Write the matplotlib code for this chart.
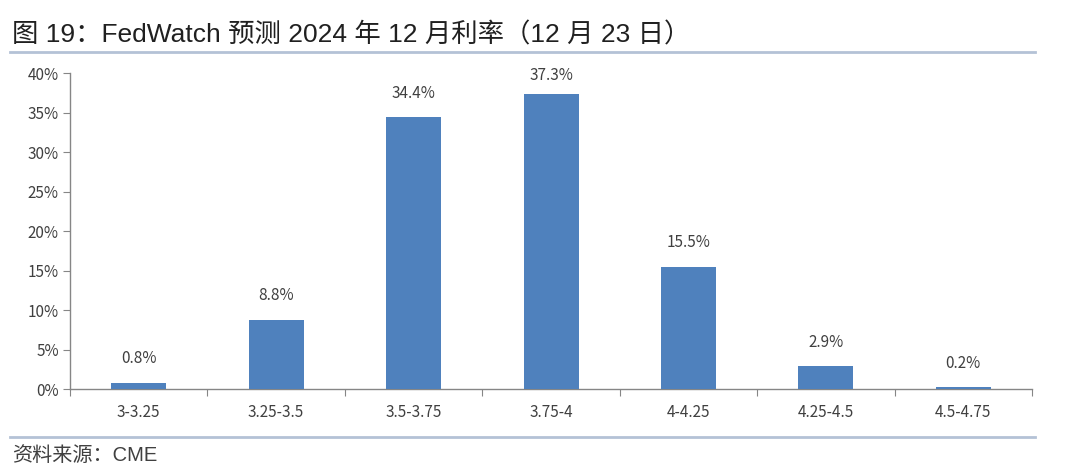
import matplotlib.pyplot as plt
from matplotlib.lines import Line2D

plt.rcParams['font.family'] = ['Noto Sans CJK SC', 'DejaVu Sans']

# ====== データ ======
categories = ["3-3.25", "3.25-3.5", "3.5-3.75", "3.75-4", "4-4.25", "4.25-4.5", "4.5-4.75"]
values = [0.8, 8.8, 34.4, 37.3, 15.5, 2.9, 0.2]
y_ticks = [0, 5, 10, 15, 20, 25, 30, 35, 40]

title = "图 19：FedWatch 预测 2024 年 12 月利率（12 月 23 日）"
source = "资料来源：CME"

bar_color = "#4F81BD"
axis_color = "#868686"
text_color = "#404040"
latin_cjk = ['Liberation Sans', 'Noto Sans CJK SC']

fig = plt.figure(figsize=(10.8, 4.72), dpi=100)
ax = fig.add_axes([0.0648, 0.1758, 0.8908, 0.6695])

x = list(range(len(categories)))
ax.bar(x, values, width=0.4, color=bar_color, zorder=3)
for xi, v in zip(x, values):
    # labels are kept inside the plot area, like the original
    ax.text(xi, min(v + 1.95, 38.6), f"{v:.1f}%", ha="center", va="bottom", fontsize=11, color=text_color)

ax.set_xlim(-0.5, len(categories) - 0.5)
ax.set_ylim(0, 40)
ax.set_yticks(y_ticks)
ax.set_yticklabels([f"{t}%" for t in y_ticks], fontsize=11, color=text_color)

# category boundaries as ticks, labels at centers
ax.set_xticks([i - 0.5 for i in range(len(categories) + 1)])
ax.set_xticklabels([])
ax.set_xticks(x, minor=True)
ax.set_xticklabels(categories, minor=True, fontsize=11, color=text_color)
ax.tick_params(axis="x", which="minor", length=0, pad=11)
ax.tick_params(axis="x", which="major", length=5, color=axis_color, direction="out")
ax.tick_params(axis="y", length=5, color=axis_color, direction="out", pad=3)

for s in ["top", "right"]:
    ax.spines[s].set_visible(False)
for s in ["left", "bottom"]:
    ax.spines[s].set_color(axis_color)
    ax.spines[s].set_linewidth(1.0)

fig.text(0.011, 0.925, title, fontsize=19, color="#202020", ha="left", va="center", family=latin_cjk)
fig.text(0.011, 0.036, source, fontsize=14.5, color="#404040", ha="left", va="center", family=latin_cjk)

line_color = "#B4C2D6"
fig.add_artist(Line2D([0.009, 0.958], [0.889, 0.889], color=line_color, linewidth=2, transform=fig.transFigure))
fig.add_artist(Line2D([0.009, 0.958], [0.074, 0.074], color=line_color, linewidth=2, transform=fig.transFigure))

fig.savefig("out.png", dpi=100)
